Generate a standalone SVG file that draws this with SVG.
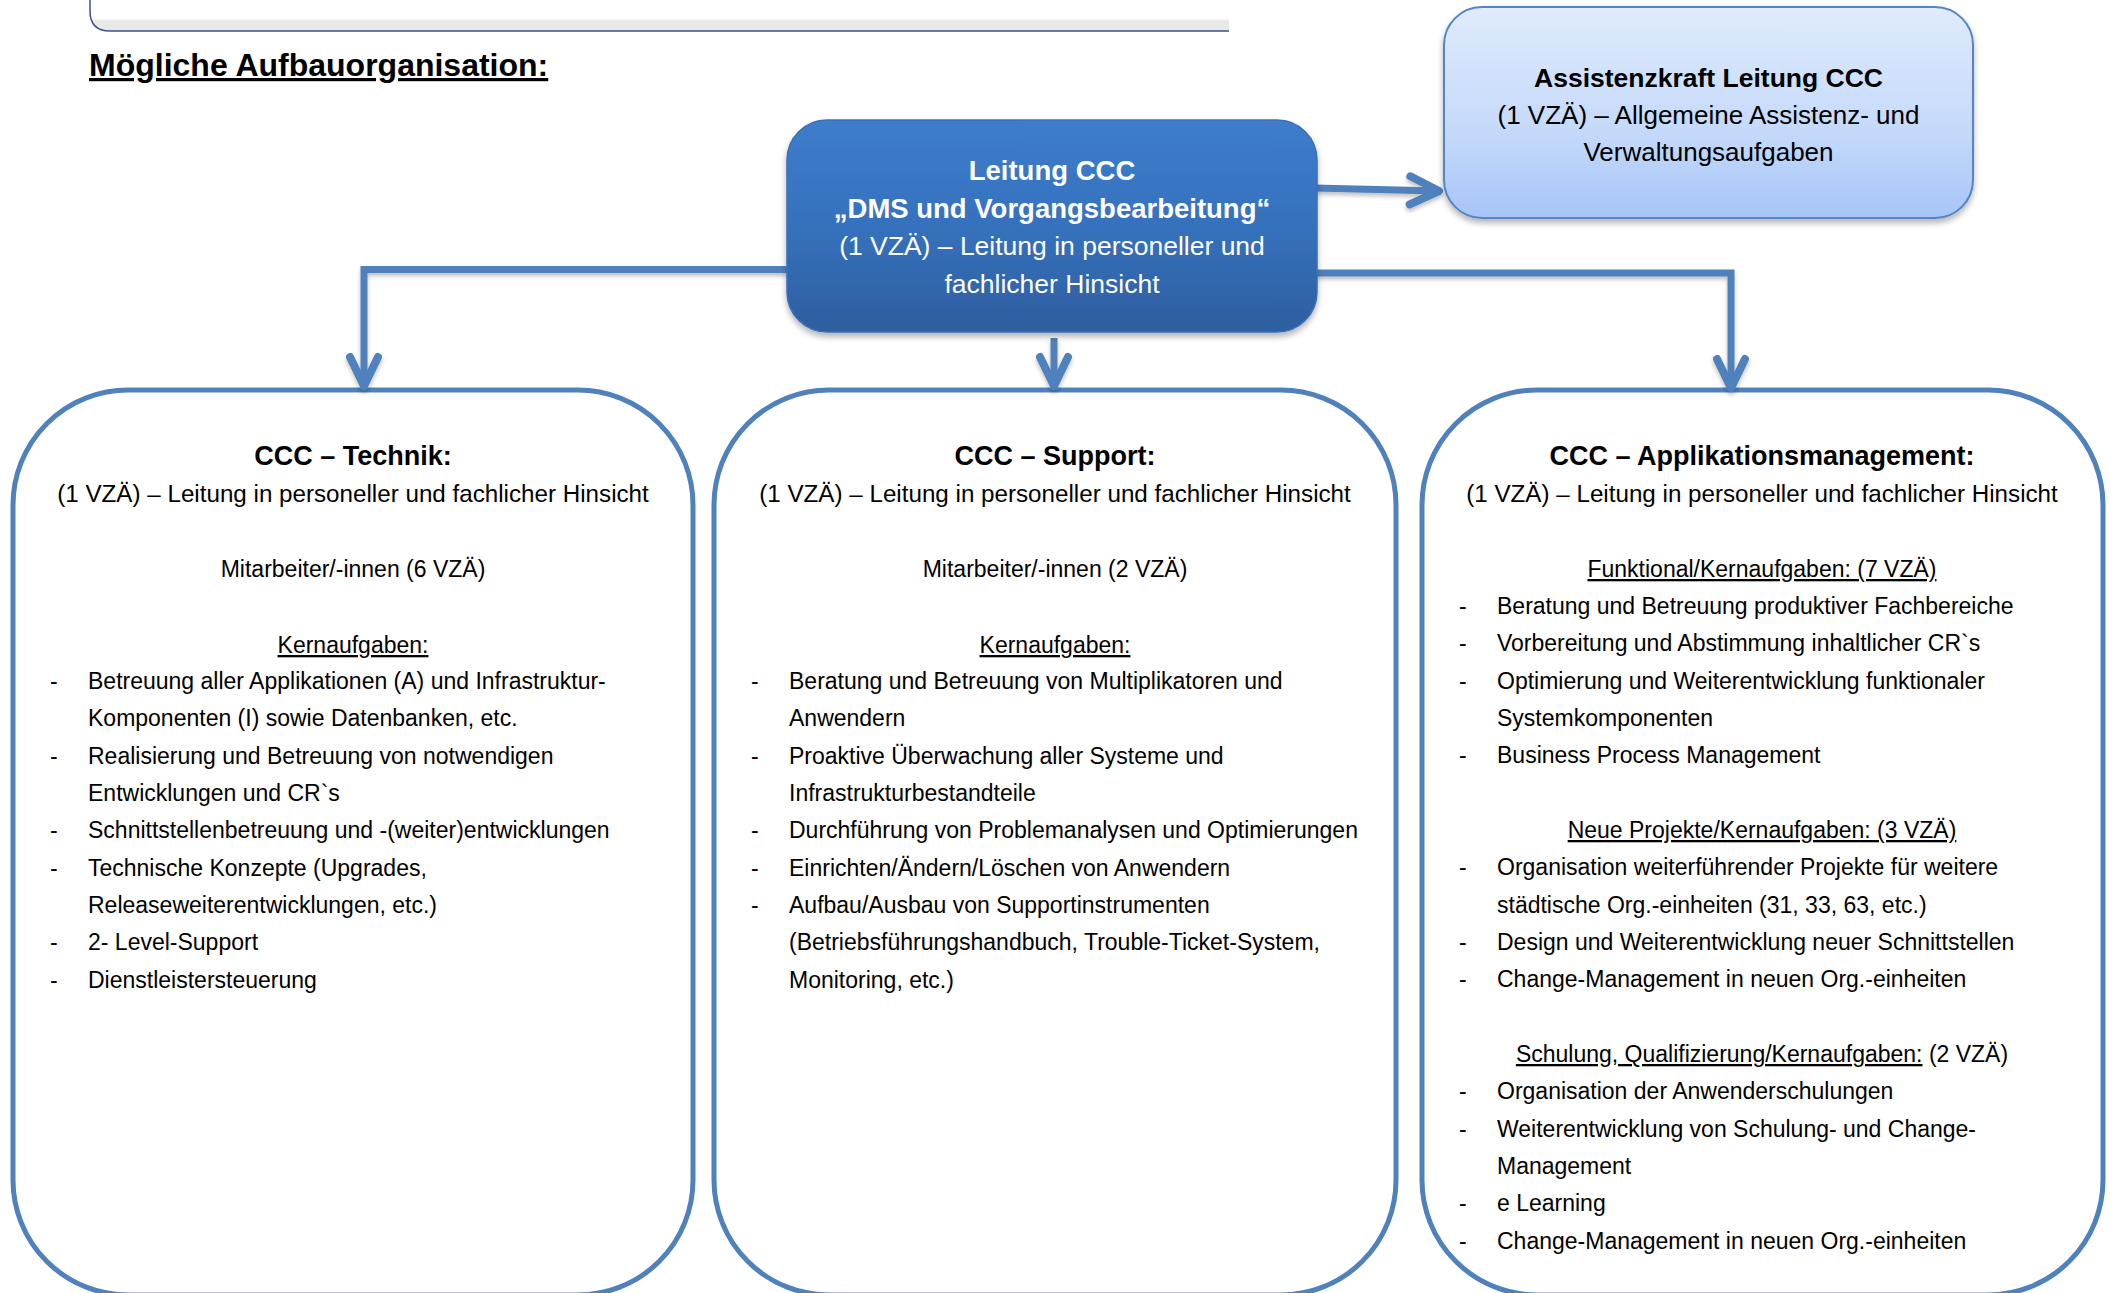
<svg xmlns="http://www.w3.org/2000/svg" width="2114" height="1293" viewBox="0 0 2114 1293">
<defs>
<style>
.t{font-family:"Liberation Sans",Arial,sans-serif;font-size:23px;fill:#000}
.c{text-anchor:middle}
.h{font-weight:bold;font-size:27px}
.s{font-size:24.2px}
.u{text-decoration:underline}
.w{fill:#fff}
.big{fill:#fff;stroke:#4f81bd;stroke-width:5}
.con{fill:none;stroke:#4f81bd;stroke-width:7;marker-end:url(#ah)}
</style>
<linearGradient id="gLeit" x1="0" y1="0" x2="0" y2="1">
<stop offset="0" stop-color="#3d7dcc"/>
<stop offset="0.5" stop-color="#3671bd"/>
<stop offset="1" stop-color="#2d5e9e"/>
</linearGradient>
<linearGradient id="gAss" x1="0" y1="0" x2="0" y2="1">
<stop offset="0" stop-color="#e0ebfc"/>
<stop offset="0.6" stop-color="#c4d9fa"/>
<stop offset="1" stop-color="#a6c5f7"/>
</linearGradient>
<linearGradient id="gTop" x1="0" y1="0" x2="0" y2="1">
<stop offset="0" stop-color="#fff"/>
<stop offset="0.7" stop-color="#fff"/>
<stop offset="0.78" stop-color="#e8e8e8"/>
<stop offset="1" stop-color="#e8e8e8"/>
</linearGradient>
<filter id="sh" x="-10%" y="-10%" width="120%" height="130%">
<feDropShadow dx="0" dy="4" stdDeviation="3" flood-color="#000" flood-opacity="0.3"/>
</filter>
<filter id="shl" x="-10%" y="-10%" width="120%" height="130%">
<feDropShadow dx="0" dy="3" stdDeviation="2" flood-color="#000" flood-opacity="0.25"/>
</filter>
<marker id="ah" markerUnits="userSpaceOnUse" markerWidth="40" markerHeight="40" viewBox="-35 -20 40 40" refX="0" refY="0" orient="auto">
<path d="M-29,-14 L0,0 L-29,14" fill="none" stroke="#4f81bd" stroke-width="8" stroke-linecap="round" stroke-linejoin="round"/>
</marker>
</defs>

<g id="top-frame">
<path d="M90,-12 V11 Q90,31 110,31 H1229 V-12 Z" fill="url(#gTop)"/>
<path d="M90,-12 V11 Q90,31 110,31 H1229" fill="none" stroke="#3e5189" stroke-width="1.5"/>
</g>

<g id="title">
<text class="t u" x="89" y="76" style="font-weight:bold;font-size:32px">Mögliche Aufbauorganisation:</text>
</g>

<g id="node-technik">
<rect class="big" x="13" y="390" width="680" height="905" rx="115" ry="115"/>
<text class="t c h" x="353" y="465">CCC – Technik:</text>
<text class="t c s" x="353" y="502">(1 VZÄ) – Leitung in personeller und fachlicher Hinsicht</text>
<text class="t c" x="353" y="577">Mitarbeiter/-innen (6 VZÄ)</text>
<text class="t c u" x="353" y="653">Kernaufgaben:</text>
<g class="t">
<text x="50" y="689">-</text><text x="88" y="689">Betreuung aller Applikationen (A) und Infrastruktur-</text>
<text x="88" y="726">Komponenten (I) sowie Datenbanken, etc.</text>
<text x="50" y="764">-</text><text x="88" y="764">Realisierung und Betreuung von notwendigen</text>
<text x="88" y="801">Entwicklungen und CR`s</text>
<text x="50" y="838">-</text><text x="88" y="838">Schnittstellenbetreuung und -(weiter)entwicklungen</text>
<text x="50" y="876">-</text><text x="88" y="876">Technische Konzepte (Upgrades,</text>
<text x="88" y="913">Releaseweiterentwicklungen, etc.)</text>
<text x="50" y="950">-</text><text x="88" y="950">2- Level-Support</text>
<text x="50" y="988">-</text><text x="88" y="988">Dienstleistersteuerung</text>
</g>
</g>

<g id="node-support">
<rect class="big" x="714" y="390" width="682" height="905" rx="115" ry="115"/>
<text class="t c h" x="1055" y="465">CCC – Support:</text>
<text class="t c s" x="1055" y="502">(1 VZÄ) – Leitung in personeller und fachlicher Hinsicht</text>
<text class="t c" x="1055" y="577">Mitarbeiter/-innen (2 VZÄ)</text>
<text class="t c u" x="1055" y="653">Kernaufgaben:</text>
<g class="t">
<text x="751" y="689">-</text><text x="789" y="689">Beratung und Betreuung von Multiplikatoren und</text>
<text x="789" y="726">Anwendern</text>
<text x="751" y="764">-</text><text x="789" y="764">Proaktive Überwachung aller Systeme und</text>
<text x="789" y="801">Infrastrukturbestandteile</text>
<text x="751" y="838">-</text><text x="789" y="838">Durchführung von Problemanalysen und Optimierungen</text>
<text x="751" y="876">-</text><text x="789" y="876">Einrichten/Ändern/Löschen von Anwendern</text>
<text x="751" y="913">-</text><text x="789" y="913">Aufbau/Ausbau von Supportinstrumenten</text>
<text x="789" y="950">(Betriebsführungshandbuch, Trouble-Ticket-System,</text>
<text x="789" y="988">Monitoring, etc.)</text>
</g>
</g>

<g id="node-applikation">
<rect class="big" x="1422" y="390" width="681" height="905" rx="115" ry="115"/>
<text class="t c h" x="1762" y="465">CCC – Applikationsmanagement:</text>
<text class="t c s" x="1762" y="502">(1 VZÄ) – Leitung in personeller und fachlicher Hinsicht</text>
<text class="t c u" x="1762" y="577">Funktional/Kernaufgaben: (7 VZÄ)</text>
<g class="t">
<text x="1459" y="614">-</text><text x="1497" y="614">Beratung und Betreuung produktiver Fachbereiche</text>
<text x="1459" y="651">-</text><text x="1497" y="651">Vorbereitung und Abstimmung inhaltlicher CR`s</text>
<text x="1459" y="689">-</text><text x="1497" y="689">Optimierung und Weiterentwicklung funktionaler</text>
<text x="1497" y="726">Systemkomponenten</text>
<text x="1459" y="763">-</text><text x="1497" y="763">Business Process Management</text>
</g>
<text class="t c u" x="1762" y="838">Neue Projekte/Kernaufgaben: (3 VZÄ)</text>
<g class="t">
<text x="1459" y="875">-</text><text x="1497" y="875">Organisation weiterführender Projekte für weitere</text>
<text x="1497" y="913">städtische Org.-einheiten (31, 33, 63, etc.)</text>
<text x="1459" y="950">-</text><text x="1497" y="950">Design und Weiterentwicklung neuer Schnittstellen</text>
<text x="1459" y="987">-</text><text x="1497" y="987">Change-Management in neuen Org.-einheiten</text>
</g>
<text class="t c" x="1762" y="1062"><tspan text-decoration="underline">Schulung, Qualifizierung/Kernaufgaben:</tspan> (2 VZÄ)</text>
<g class="t">
<text x="1459" y="1099">-</text><text x="1497" y="1099">Organisation der Anwenderschulungen</text>
<text x="1459" y="1137">-</text><text x="1497" y="1137">Weiterentwicklung von Schulung- und Change-</text>
<text x="1497" y="1174">Management</text>
<text x="1459" y="1211">-</text><text x="1497" y="1211">e Learning</text>
<text x="1459" y="1249">-</text><text x="1497" y="1249">Change-Management in neuen Org.-einheiten</text>
</g>
</g>

<g id="connectors" filter="url(#shl)">
<path class="con" d="M790,269.5 H364 V386"/>
<path class="con" d="M1054,338 V386"/>
<path class="con" d="M1314,273 H1731 V388"/>
<path class="con" d="M1314,188 L1439,191"/>
</g>

<g id="node-leitung">
<rect x="787" y="120" width="530" height="212" rx="40" ry="40" fill="url(#gLeit)" stroke="#3a70b8" stroke-width="1.5" filter="url(#sh)"/>
<text class="t c w" x="1052" y="180" style="font-weight:bold;font-size:27.5px">Leitung CCC</text>
<text class="t c w" x="1052" y="218" style="font-weight:bold;font-size:27.5px">„DMS und Vorgangsbearbeitung“</text>
<text class="t c w" x="1052" y="255" style="font-size:26.5px">(1 VZÄ) – Leitung in personeller und</text>
<text class="t c w" x="1052" y="293" style="font-size:26.5px">fachlicher Hinsicht</text>
</g>

<g id="node-assistenz">
<rect x="1444" y="7" width="529" height="211" rx="38" ry="38" fill="url(#gAss)" stroke="#5585c4" stroke-width="2" filter="url(#sh)"/>
<text class="t c" x="1708.5" y="87" style="font-weight:bold;font-size:26.5px">Assistenzkraft Leitung CCC</text>
<text class="t c" x="1708.5" y="124" style="font-size:26px">(1 VZÄ) – Allgemeine Assistenz- und</text>
<text class="t c" x="1708.5" y="161" style="font-size:26px">Verwaltungsaufgaben</text>
</g>
</svg>
